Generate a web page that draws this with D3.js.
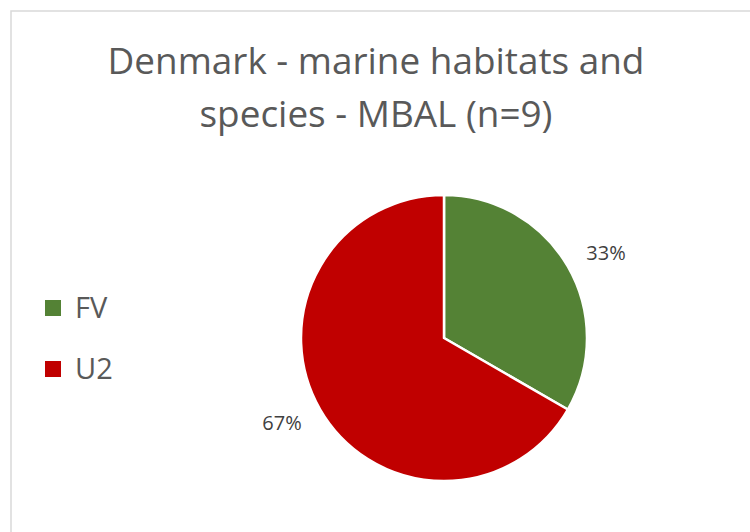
<!DOCTYPE html>
<html>
<head>
<meta charset="utf-8">
<script src="https://cdn.jsdelivr.net/npm/d3@7/dist/d3.min.js"></script>
<style>
  html, body { margin: 0; padding: 0; background: #fff; }
  svg { display: block; }
</style>
</head>
<body>
<svg id="chart" width="750" height="532"></svg>
<script>
// Assessment categories and counts (n = 9)
const categories = ["FV", "U2"];
const counts = [3, 6];
const colors = ["#548235", "#C00000"];
const titleLines = ["Denmark - marine habitats and", "species - MBAL (n=9)"];

const svg = d3.select("#chart");
const font = "'Open Sans', 'Noto Sans', sans-serif";

// Chart frame
svg.append("rect")
  .attr("x", 11).attr("y", 11)
  .attr("width", 760).attr("height", 540)
  .attr("fill", "#fff")
  .attr("stroke", "#d9d9d9")
  .attr("stroke-width", 1.5);

// Title, two centred lines
const title = svg.append("g").attr("fill", "#595959")
  .style("font-family", font).style("font-size", "38px");
titleLines.forEach((t, i) => {
  title.append("text")
    .attr("x", 376).attr("y", 74 + i * 53)
    .attr("text-anchor", "middle")
    .text(t);
});
// keep first line's width close to 537px
const w0 = title.select("text").node().getComputedTextLength();
const scaleF = 537 / w0;
title.style("font-size", (38 * scaleF).toFixed(2) + "px");

// Pie
const total = d3.sum(counts);
const data = categories.map((c, i) => ({ cat: c, value: counts[i], color: colors[i] }));
const cx = 444, cy = 338, r = 143;
const pie = d3.pie().value(d => d.value).sort(null);
const arc = d3.arc().innerRadius(0).outerRadius(r);
const arcs = pie(data);

const g = svg.append("g").attr("transform", `translate(${cx},${cy})`);
g.selectAll("path")
  .data(arcs)
  .join("path")
  .attr("d", arc)
  .attr("fill", d => d.data.color)
  .attr("stroke", "#fff")
  .attr("stroke-width", 2.5)
  .attr("stroke-linejoin", "round");

// Percentage labels outside the slices (slightly rotated past the mid-angle)
const labelR = r + 40;
g.selectAll("text.pct")
  .data(arcs)
  .join("text")
  .attr("class", "pct")
  .attr("transform", d => {
    const a = (d.startAngle + d.endAngle) / 2 + 0.04;
    return `translate(${labelR * Math.sin(a)},${-labelR * Math.cos(a)})`;
  })
  .attr("text-anchor", "middle")
  .attr("dy", "0.36em")
  .attr("fill", "#404040")
  .style("font-family", font)
  .style("font-size", "20px")
  .text(d => Math.round(d.data.value / total * 100) + "%");

// Legend
const legend = svg.append("g");
const items = legend.selectAll("g")
  .data(data)
  .join("g")
  .attr("transform", (d, i) => `translate(45,${300 + i * 61})`);
items.append("rect")
  .attr("width", 16).attr("height", 16)
  .attr("fill", d => d.color);
items.append("text")
  .attr("x", 30).attr("y", 18)
  .attr("fill", "#595959")
  .style("font-family", font)
  .style("font-size", "29px")
  .text(d => d.cat);
</script>
</body>
</html>
